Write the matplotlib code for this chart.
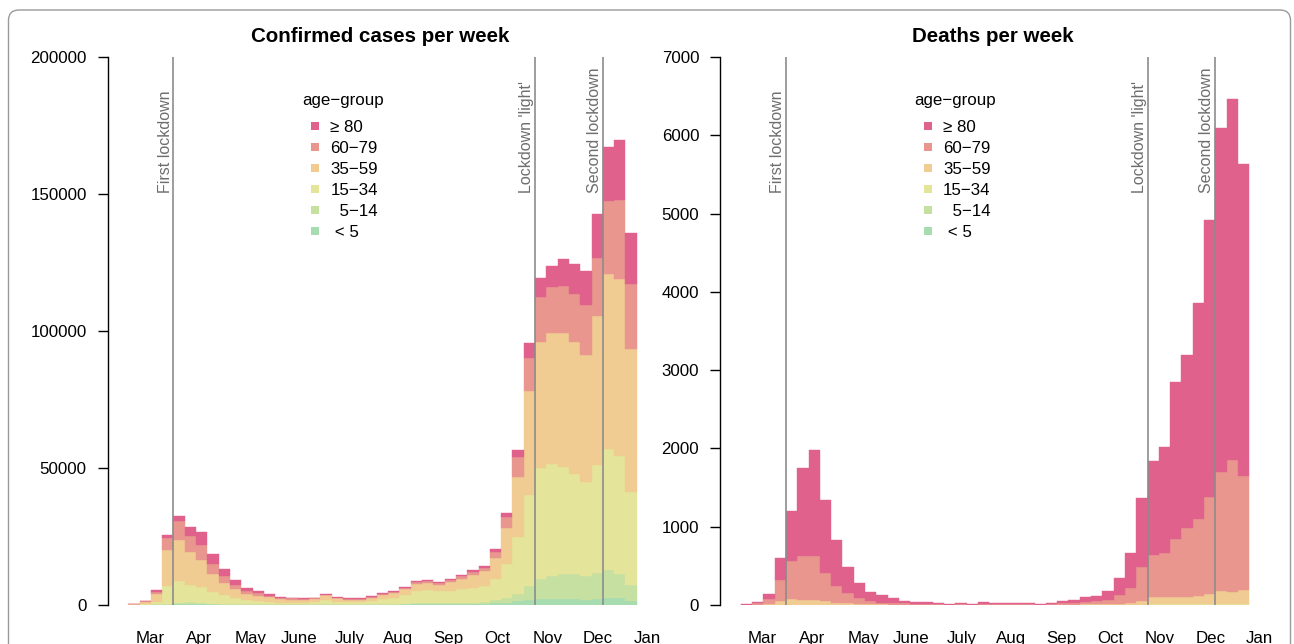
import matplotlib
matplotlib.use('Agg')
import matplotlib.pyplot as plt
from matplotlib.patches import Rectangle, FancyBboxPatch
import matplotlib.transforms as mtransforms
import numpy as np

plt.rcParams['font.family'] = ['Liberation Sans', 'DejaVu Sans']

# ---------------- data ----------------
weeks = np.arange(45)  # weekly bins, Feb/Mar 2020 .. Dec 2020
month_labels = ['Mar', 'Apr', 'May', 'June', 'July', 'Aug', 'Sep', 'Oct', 'Nov', 'Dec', 'Jan']
month_pos = [1.92, 6.30, 10.86, 15.1, 19.6, 23.9, 28.35, 32.7, 37.1, 41.56, 45.9]

age_groups = ['\u2265 80', '60\u221279', '35\u221259', '15\u221234', '  5\u221214', ' < 5']
colors = ['#E0628C', '#E8968E', '#F0CC92', '#E4E49A', '#C6E0A2', '#A6DCB0']

events = ['First lockdown', "Lockdown 'light'", 'Second lockdown']
event_week = [4, 36, 42]

cases_80 = [50, 150, 800, 1100, 1700, 3300, 4800, 3600, 2500, 1800, 1200, 800, 600, 300, 300,
            200, 200, 300, 200, 150, 200, 400, 400, 400, 400, 400, 300, 400, 400, 500,
            800, 600, 1200, 1600, 2600, 5500, 6800, 7500, 9700, 10700, 12500, 16100, 19900, 21900, 18700]
cases_60 = [50, 200, 700, 4500, 7100, 5700, 5400, 3600, 2500, 1500, 1100, 900, 600, 400, 400,
            400, 400, 300, 300, 250, 300, 350, 350, 400, 500, 700, 800, 700, 700, 1100,
            1100, 1300, 2000, 4000, 7300, 12000, 16300, 17000, 17100, 17700, 18200, 21100, 26600, 28800, 23900]
cases_35 = [150, 650, 2800, 13100, 14900, 12200, 9800, 6500, 4500, 3400, 2300, 2050, 1700, 1300, 1200,
            1000, 1100, 1700, 1300, 1000, 1000, 1050, 1550, 1600, 1900, 2600, 2650, 2100, 3200, 3800,
            4600, 5400, 7700, 13000, 21900, 38000, 46200, 47900, 48900, 48100, 46300, 54400, 63900, 64500, 52100]
cases_15 = [120, 420, 1000, 6600, 7900, 6300, 5800, 4400, 3200, 2100, 1400, 1100, 900, 700, 600,
            600, 750, 1500, 900, 800, 800, 1200, 1750, 2300, 3300, 4500, 4650, 4500, 4500, 4900,
            5400, 5800, 7700, 12400, 20800, 33200, 40500, 40700, 39200, 36500, 34300, 39300, 44100, 43200, 33900]
cases_5 = [20, 50, 100, 300, 600, 700, 500, 300, 250, 200, 200, 150, 100, 100, 100,
           100, 150, 200, 100, 100, 100, 200, 200, 250, 300, 400, 450, 450, 400, 500,
           600, 700, 1200, 1700, 2500, 5200, 7300, 8300, 9000, 9200, 8700, 9500, 10100, 8800, 5700]
cases_0 = [10, 30, 100, 100, 300, 300, 300, 200, 150, 100, 100, 100, 100, 100, 100,
           100, 100, 100, 100, 100, 100, 100, 150, 150, 200, 200, 250, 250, 300, 300,
           300, 400, 600, 900, 1500, 1700, 2100, 2300, 2300, 2100, 1900, 2300, 2700, 2500, 1600]

deaths_80 = [4, 18, 68, 281, 638, 1120, 1350, 930, 583, 328, 192, 113, 98, 63, 31,
             26, 25, 16, 7, 16, 7, 28, 18, 16, 16, 16, 7, 16, 31, 38,
             64, 68, 115, 226, 447, 881, 1192, 1351, 2004, 2200, 2760, 3546, 4400, 4613, 3988]
deaths_60 = [5, 16, 64, 264, 485, 562, 570, 365, 217, 135, 74, 43, 22, 20, 16,
             14, 10, 8, 5, 8, 5, 12, 10, 8, 8, 8, 5, 8, 16, 21,
             30, 37, 51, 108, 191, 434, 542, 570, 745, 882, 980, 1232, 1514, 1679, 1449]
deaths_35 = [1, 4, 12, 52, 72, 64, 56, 42, 28, 21, 14, 9, 8, 6, 4,
             3, 3, 2, 1, 2, 1, 3, 2, 2, 2, 2, 1, 2, 4, 5,
             7, 9, 12, 14, 24, 48, 95, 91, 93, 98, 112, 133, 168, 155, 178]
deaths_15 = [0, 0, 1, 3, 5, 4, 4, 3, 2, 1, 1, 1, 0, 0, 0,
             0, 0, 0, 0, 0, 0, 0, 0, 0, 0, 0, 0, 0, 0, 0,
             1, 1, 1, 1, 2, 3, 7, 7, 7, 7, 8, 10, 13, 12, 14]
deaths_5 = [0, 0, 0, 0, 0, 0, 0, 0, 0, 0, 0, 0, 0, 0, 0,
            0, 0, 0, 0, 0, 0, 0, 0, 0, 0, 0, 0, 0, 0, 0,
            0, 0, 0, 0, 0, 0, 1, 1, 0, 1, 0, 1, 1, 1, 1]
deaths_0 = [0, 0, 0, 0, 0, 0, 0, 0, 0, 0, 0, 0, 0, 0, 0,
            0, 0, 0, 0, 0, 0, 0, 0, 0, 0, 0, 0, 0, 0, 0,
            0, 0, 0, 0, 0, 0, 0, 0, 0, 0, 0, 0, 0, 0, 0]

cases = [cases_80, cases_60, cases_35, cases_15, cases_5, cases_0]
deaths = [deaths_80, deaths_60, deaths_35, deaths_15, deaths_5, deaths_0]

# ---------------- layout ----------------
W, H = 1294, 644
fig = plt.figure(figsize=(W / 100, H / 100), dpi=100)

ax_w = 546.2
ax_b, ax_t = 605, 57


def make_ax(left_px):
    return fig.add_axes([left_px / W, 1 - ax_b / H, ax_w / W, (ax_b - ax_t) / H])


def draw_panel(ax, series, ymax, yticks, title, text_y):
    bottom = np.zeros(len(weeks))
    for vals, col in list(zip(series, colors))[::-1]:
        v = np.asarray(vals, dtype=float)
        ax.bar(weeks, v, width=1.0, bottom=bottom, align='edge', color=col,
               edgecolor=col, linewidth=0.3)
        bottom += v
    ax.set_xlim(-1.84, 46.5)
    ax.set_ylim(0, ymax)
    for s in ['top', 'right', 'bottom']:
        ax.spines[s].set_visible(False)
    ax.spines['left'].set_linewidth(1.0)
    ax.set_yticks(yticks)
    ax.set_yticklabels([str(t) for t in yticks])
    ax.tick_params(axis='y', direction='out', length=7.5, width=1.0, pad=7.5, labelsize=12.2)
    ax.set_xticks(month_pos)
    ax.set_xticklabels(month_labels)
    ax.tick_params(axis='x', length=0, pad=18.5, labelsize=12.2)

    trans = mtransforms.blended_transform_factory(ax.transData, ax.transAxes)
    for name, wk in zip(events, event_week):
        ax.axvline(wk, ymin=0, ymax=1, color='#8c8c8c', lw=1.2, zorder=3)
        ax.text(wk - 0.08, text_y, name, rotation=90, ha='right', va='bottom',
                color='#6e6e6e', fontsize=11.5, transform=trans, zorder=4)

    ax.text(0.5, (ax_b - 37) / (ax_b - ax_t), title, transform=ax.transAxes,
            ha='center', va='center', fontsize=14.8, fontweight='bold')

    # legend
    def fx(px):
        return px / ax_w

    def fy(py):
        return (ax_b - py) / (ax_b - ax_t)

    ax.text(fx(194.5), fy(101), 'age\u2212group', transform=ax.transAxes,
            ha='left', va='center', fontsize=12.2)
    for i, (lab, col) in enumerate(zip(age_groups, colors)):
        cy = 126 + 21 * i
        ax.add_patch(Rectangle((fx(203.5), fy(cy + 4)), fx(8), 8 / (ax_b - ax_t),
                               transform=ax.transAxes, facecolor=col, edgecolor='none',
                               clip_on=False))
        ax.text(fx(223), fy(cy + 1.5), lab, transform=ax.transAxes, ha='left', va='center',
                fontsize=12.2)


axL = make_ax(107.5)
draw_panel(axL, cases, 200000, [0, 50000, 100000, 150000, 200000],
           'Confirmed cases per week', (ax_b - 193) / (ax_b - ax_t))
axR = make_ax(720)
draw_panel(axR, deaths, 7000, [0, 1000, 2000, 3000, 4000, 5000, 6000, 7000],
           'Deaths per week', (ax_b - 193) / (ax_b - ax_t))

# outer frame
frame = FancyBboxPatch((8.5 / W, -0.05), (1290.5 - 8.5) / W, (H - 10) / H + 0.05,
                       boxstyle='round,pad=0,rounding_size=0.008',
                       transform=fig.transFigure, fill=False, edgecolor='#9a9a9a',
                       lw=1.0, mutation_aspect=2.0)
fig.patches.append(frame)

fig.savefig('out.png', dpi=100)
